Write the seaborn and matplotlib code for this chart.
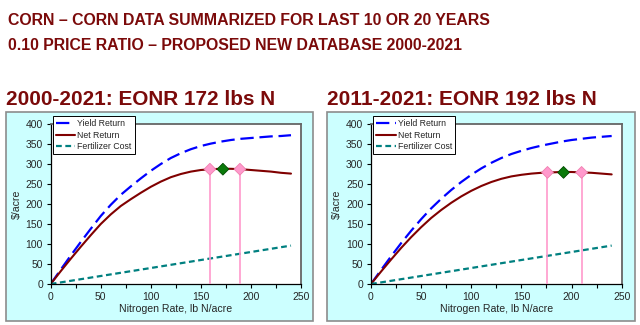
import matplotlib
matplotlib.use("Agg")
import matplotlib.pyplot as plt
from matplotlib.patches import Rectangle
import seaborn as sns
import pandas as pd

# ---------------- data ----------------
n_rate = [0, 10, 20, 30, 40, 50, 60, 70, 80, 90, 100, 110, 120,
          130, 140, 150, 160, 170, 180, 190, 200, 210, 220, 230, 240]

yield_2000 = [0, 36, 71, 105, 138, 170, 198, 223, 244, 264, 283, 300, 315,
              327, 337, 345, 351, 356, 360, 363, 365, 367, 369, 370, 372]
net_2000 = [0, 32, 63, 93, 122, 150, 174, 195, 212, 228, 243, 256, 267,
            275, 281, 285, 287, 288, 288, 287, 285, 283, 281, 278, 276]
fert_2000 = [0, 4, 8, 12, 16, 20, 24, 28, 32, 36, 40, 44, 48,
             52, 56, 60, 64, 68, 72, 76, 80, 84, 88, 92, 96]

yield_2011 = [0, 35, 69, 102, 133, 162, 189, 213, 235, 255, 273, 289, 303,
              315, 325, 333, 340, 346, 351, 356, 360, 363, 366, 368, 370]
net_2011 = [0, 31, 61, 90, 117, 142, 165, 185, 203, 219, 233, 245, 255,
            263, 269, 273, 276, 278, 279, 280, 280, 279, 278, 276, 274]
fert_2011 = fert_2000

# EONR and range markers: [low, EONR, high] and net return at those rates
marks_2000_x = [159, 172, 189]
marks_2000_y = [287, 287, 287]
marks_2011_x = [176, 192, 210]
marks_2011_y = [279, 279, 279]

panel_titles = ["2000-2021: EONR 172 lbs N", "2011-2021: EONR 192 lbs N"]
main_title = ["CORN \u2013 CORN DATA SUMMARIZED FOR LAST 10 OR 20 YEARS",
              "0.10 PRICE RATIO \u2013 PROPOSED NEW DATABASE 2000-2021"]
series_names = ["Yield Return", "Net Return", "Fertilizer Cost"]
x_ticks = [0, 50, 100, 150, 200, 250]
y_ticks = [0, 50, 100, 150, 200, 250, 300, 350, 400]

# ---------------- style ----------------
sns.set_style("ticks")
plt.rcParams["font.family"] = ["Liberation Sans", "DejaVu Sans"]
plt.rcParams["xtick.direction"] = "out"
plt.rcParams["ytick.direction"] = "out"

W, H = 640, 325
fig = plt.figure(figsize=(W / 100, H / 100), dpi=100)
fig.patch.set_facecolor("white")

TITLE_RED = "#7b0a0a"
colors = {"Yield Return": "#0000ff", "Net Return": "#800000",
          "Fertilizer Cost": "#008080"}
dashes = {"Yield Return": (6, 2.6), "Net Return": "", "Fertilizer Cost": (2.6, 1.6)}


def fx(px):
    return px / W


def fy(py):
    return (H - py) / H


def fit_width(txt, target_px):
    fig.canvas.draw()
    r = fig.canvas.get_renderer()
    w = txt.get_window_extent(r).width
    txt.set_fontsize(txt.get_fontsize() * target_px / w)


# main title
narrow = ["Liberation Sans Narrow", "Liberation Sans", "DejaVu Sans"]
t1 = fig.text(fx(8), fy(25), main_title[0], color=TITLE_RED, fontsize=14,
              fontweight="bold", family=narrow, va="baseline")
t2 = fig.text(fx(8), fy(50), main_title[1], color=TITLE_RED, fontsize=14,
              fontweight="bold", family=narrow, va="baseline")
fit_width(t1, 486)
t2.set_fontsize(t1.get_fontsize())

panels = [
    dict(box=(6, 112, 313, 321), ax=(50.7, 124, 301, 284), title_x=6,
         title_w=268, y=yield_2000, n=net_2000, f=fert_2000,
         mx=marks_2000_x, my=marks_2000_y, title=panel_titles[0]),
    dict(box=(327, 112, 635, 321), ax=(371, 124, 621.7, 284), title_x=327,
         title_w=268, y=yield_2011, n=net_2011, f=fert_2011,
         mx=marks_2011_x, my=marks_2011_y, title=panel_titles[1]),
]

for p in panels:
    bx0, by0, bx1, by1 = p["box"]
    fig.patches.append(Rectangle((fx(bx0), fy(by1)), fx(bx1 - bx0), (by1 - by0) / H,
                                 transform=fig.transFigure, facecolor="#ccffff",
                                 edgecolor="#8c8c8c", linewidth=1.2, zorder=-5))
    tt = fig.text(fx(p["title_x"]), fy(105), p["title"], color=TITLE_RED,
                  fontsize=12, fontweight="bold", va="baseline")
    fit_width(tt, p["title_w"])

    ax0, ay0, ax1, ay1 = p["ax"]
    ax = fig.add_axes([fx(ax0), fy(ay1), fx(ax1 - ax0), (ay1 - ay0) / H])
    ax.set_facecolor("white")
    ax.set_zorder(1)

    df = pd.DataFrame({
        "N": n_rate * 3,
        "val": p["y"] + p["n"] + p["f"],
        "series": [series_names[0]] * len(n_rate) + [series_names[1]] * len(n_rate)
                  + [series_names[2]] * len(n_rate),
    })
    for s in series_names:
        sub = df[df["series"] == s]
        lw = 1.6 if s != "Net Return" else 1.5
        sns.lineplot(data=sub, x="N", y="val", ax=ax, color=colors[s],
                     linewidth=lw, legend=False, label=s)
    for line, s in zip(ax.lines, series_names):
        if dashes[s]:
            line.set_dashes(dashes[s])

    # range lines and markers
    ax.vlines([p["mx"][0], p["mx"][2]], 0, [p["my"][0], p["my"][2]],
              color="#ff99cc", linewidth=1.2, zorder=3)
    mk = pd.DataFrame({"x": p["mx"], "y": p["my"], "k": ["lo", "eonr", "hi"]})
    sns.scatterplot(data=mk, x="x", y="y", hue="k", ax=ax, marker="D", s=36,
                    palette={"lo": "#ff99cc", "eonr": "#0a7a0a", "hi": "#ff99cc"},
                    edgecolor=None, legend=False, zorder=5)
    coll = ax.collections[-1]
    coll.set_edgecolors(["#f080b0", "#004a00", "#f080b0"])
    coll.set_linewidths(0.6)

    ax.set_xlim(0, 250)
    ax.set_ylim(0, 400)
    ax.set_xticks(x_ticks)
    ax.set_yticks(y_ticks)
    ax.set_xticks([25, 75, 125, 175, 225], minor=True)
    ax.tick_params(axis="both", which="major", labelsize=7.5, length=3, width=0.8,
                   color="black", pad=2.5)
    ax.tick_params(axis="x", which="minor", length=3, width=0.8, color="black")
    ax.set_xlabel("Nitrogen Rate, lb N/acre", fontsize=7.6, labelpad=2)
    ax.set_ylabel("$/acre", fontsize=7.6, labelpad=3)
    for sp in ["left", "bottom"]:
        ax.spines[sp].set_color("black")
        ax.spines[sp].set_linewidth(0.9)
    for sp in ["top", "right"]:
        ax.spines[sp].set_visible(True)
        ax.spines[sp].set_color("#666666")
        ax.spines[sp].set_linewidth(1.3)

    leg = ax.legend(handles=ax.lines[:3], labels=series_names, loc="upper left",
                    bbox_to_anchor=(0.009, 1.05), fontsize=6.3, frameon=True,
                    fancybox=False, edgecolor="black", framealpha=1,
                    handlelength=2.2, handletextpad=0.25, labelspacing=0.3,
                    borderpad=0.35, borderaxespad=0)
    leg.get_frame().set_linewidth(0.7)
    leg.set_zorder(10)

fig.savefig("out.png", dpi=100, facecolor="white")
